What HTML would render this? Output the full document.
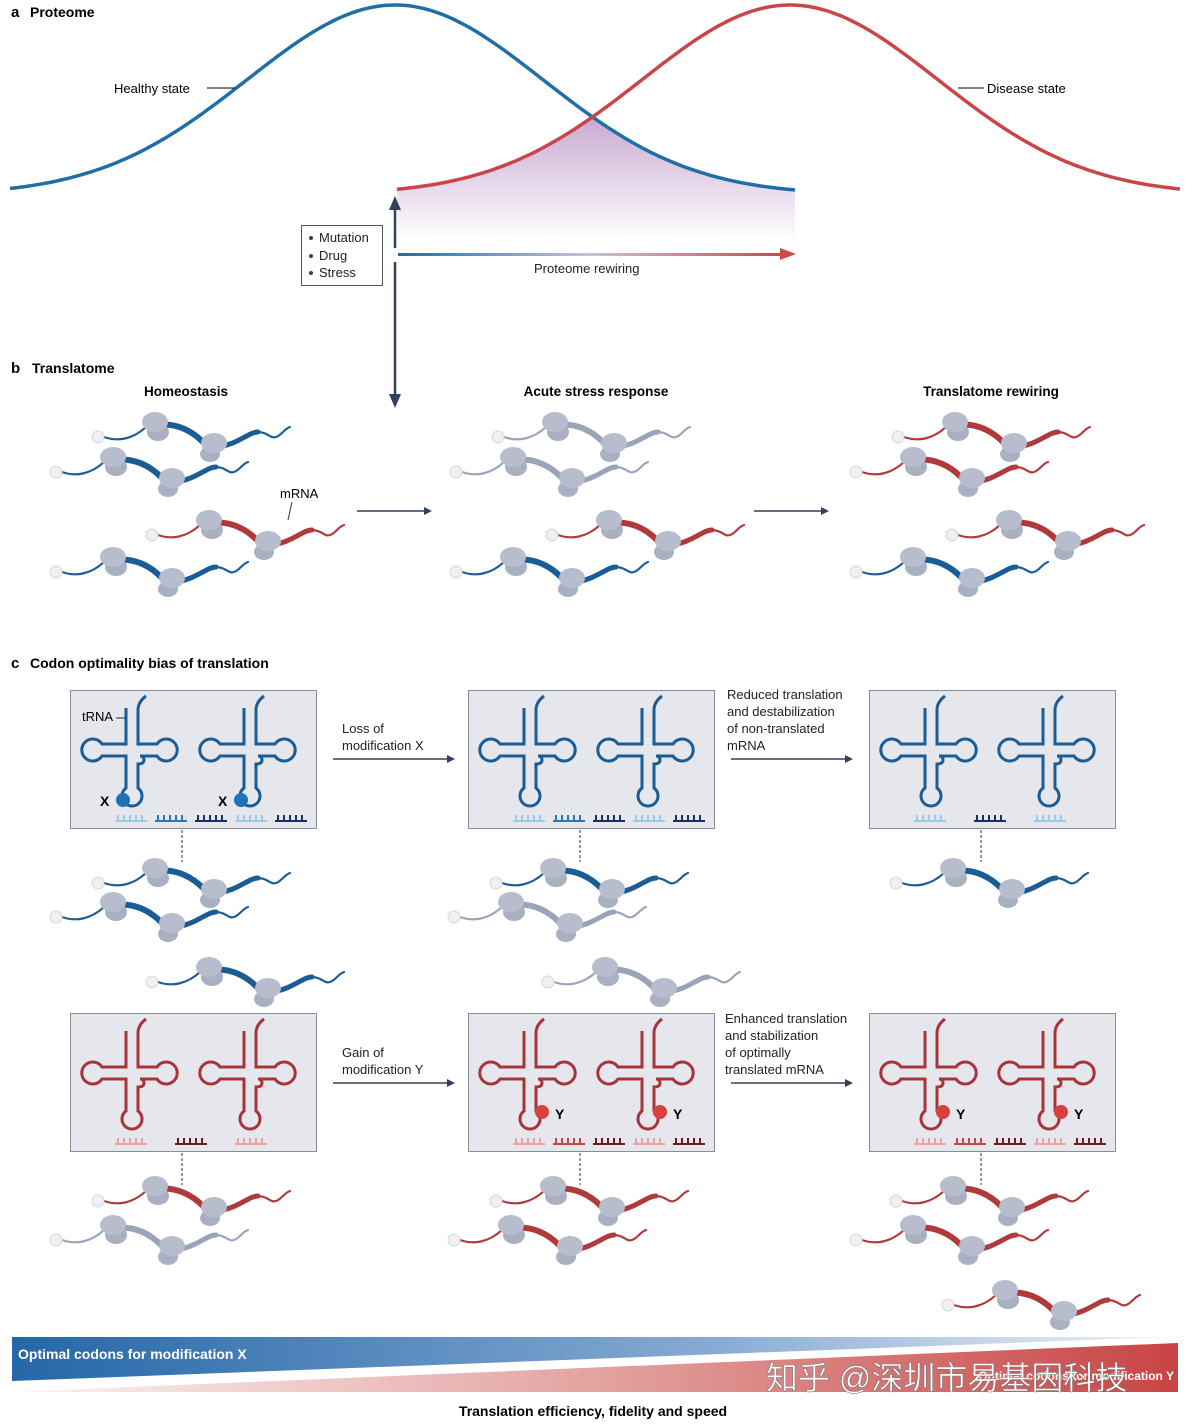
<!DOCTYPE html>
<html><head><meta charset="utf-8"><style>
body{margin:0;background:#fff;}
svg{display:block;font-family:"Liberation Sans",sans-serif;}
.b{font-weight:bold;}
</style></head><body>
<svg id="s" width="1189" height="1424" viewBox="0 0 1189 1424" xmlns="http://www.w3.org/2000/svg">
<defs>
<linearGradient id="pur" x1="0" y1="0" x2="0" y2="1"><stop offset="0" stop-color="#c9a9d2"/><stop offset="1" stop-color="#ffffff"/></linearGradient>
<linearGradient id="arr" x1="0" x2="1"><stop offset="0" stop-color="#1e6fa8"/><stop offset="0.5" stop-color="#c9c2d8"/><stop offset="1" stop-color="#d04848"/></linearGradient>
<linearGradient id="blu" x1="0" x2="1"><stop offset="0" stop-color="#2467a8"/><stop offset="0.6" stop-color="#86a9d2"/><stop offset="1" stop-color="#eef2f8"/></linearGradient>
<linearGradient id="red" x1="0" x2="1"><stop offset="0" stop-color="#fbf3f3"/><stop offset="0.5" stop-color="#e3a3a0"/><stop offset="1" stop-color="#c94444"/></linearGradient>
<symbol id="m" overflow="visible">
 <g fill="none" stroke="currentColor" stroke-linecap="round">
  <path d="M6,0 C20,5 35,2 48,-10" stroke-width="2.2"/>
  <path d="M57,-12 C80,-15 95,-5 105,5 C110,10 115,12 118,11" stroke-width="6"/>
  <path d="M118,10 C140,8 150,-5 160,-5" stroke-width="5"/>
  <path d="M160,-5 C170,-5 172,2 178,0 C184,-2 186,-8 192,-10" stroke-width="2.2"/>
 </g>
 <circle cx="0" cy="0" r="6" fill="#f0f0f3" stroke="#d5d7de"/>
 <ellipse cx="60" cy="-5" rx="11" ry="9" fill="#a9b0c2"/>
 <ellipse cx="57" cy="-15" rx="13" ry="10" fill="#b7bdcc"/>
 <ellipse cx="112" cy="17" rx="10" ry="8" fill="#a9b0c2"/>
 <ellipse cx="116" cy="6" rx="13" ry="10" fill="#b7bdcc"/>
</symbol>
<symbol id="t" overflow="visible">
 <path d="M-6,-42 V-6 H-30 A11,11 0 1 0 -30,6 H-6 V38 A10,10 0 1 0 6,38 V14 Q12,14 12,10 Q12,6 8,6 H25 A11,11 0 1 0 25,-6 H6 V-40 Q6,-48 14,-54" fill="none" stroke="currentColor" stroke-width="3"/>
</symbol>
<symbol id="c" overflow="visible">
 <g stroke="currentColor" stroke-width="2"><path d="M0,6 H32"/><path d="M3,6V0M9,6V0M15,6V0M21,6V0M27,6V0"/></g>
</symbol>
</defs>

<!-- Panel a -->
<text x="11" y="17" font-size="15" class="b">a</text><text x="30" y="17" font-size="14" class="b">Proteome</text>
<path id="shade" fill="url(#pur)"/>
<path id="bc" fill="none" stroke="#1f6fa6" stroke-width="3.5"/>
<path id="rc" fill="none" stroke="#c9454a" stroke-width="3.5"/>
<text x="114" y="93" font-size="13">Healthy state</text><line x1="207" y1="88" x2="235" y2="88" stroke="#000"/>
<text x="987" y="93" font-size="13">Disease state</text><line x1="958" y1="88" x2="984" y2="88" stroke="#000"/>
<line x1="395" y1="248" x2="395" y2="208" stroke="#34415d" stroke-width="2.5"/><path d="M389,210 L395,196 L401,210Z" fill="#34415d"/>
<line x1="395" y1="262" x2="395" y2="396" stroke="#34415d" stroke-width="2.5"/><path d="M389,394 L395,408 L401,394Z" fill="#34415d"/>
<rect x="398" y="253" width="384" height="3" fill="url(#arr)"/><path d="M780,248 L796,254 L780,260Z" fill="#d04848"/>
<text x="534" y="273" font-size="13" fill="#222">Proteome rewiring</text>
<rect x="301.5" y="225.5" width="81" height="60" fill="#fff" stroke="#555"/>
<g font-size="13" fill="#222"><circle cx="311" cy="238" r="2" fill="#34415d"/><text x="319" y="242">Mutation</text>
<circle cx="311" cy="256" r="2" fill="#34415d"/><text x="319" y="260">Drug</text>
<circle cx="311" cy="273" r="2" fill="#34415d"/><text x="319" y="277">Stress</text></g>

<!-- Panel b -->
<text x="11" y="373" font-size="15" class="b">b</text><text x="32" y="373" font-size="14" class="b">Translatome</text>
<g font-size="13.5" class="b" text-anchor="middle"><text x="186" y="396">Homeostasis</text><text x="596" y="396">Acute stress response</text><text x="991" y="396">Translatome rewiring</text></g>
<g>
<use href="#m" x="98" y="437" color="#1a5d96"/><use href="#m" x="56" y="472" color="#1a5d96"/><use href="#m" x="152" y="535" color="#b03a3a"/><use href="#m" x="56" y="572" color="#1a5d96"/>
<use href="#m" x="498" y="437" color="#9aa4b8"/><use href="#m" x="456" y="472" color="#9aa4b8"/><use href="#m" x="552" y="535" color="#b03a3a"/><use href="#m" x="456" y="572" color="#1a5d96"/>
<use href="#m" x="898" y="437" color="#b03a3a"/><use href="#m" x="856" y="472" color="#b03a3a"/><use href="#m" x="952" y="535" color="#b03a3a"/><use href="#m" x="856" y="572" color="#1a5d96"/>
</g>
<text x="280" y="498" font-size="13">mRNA</text><line x1="292" y1="502" x2="288" y2="520" stroke="#333"/>
<line x1="357" y1="511" x2="425" y2="511" stroke="#34415d" stroke-width="1.5"/><path d="M424,507 L432,511 L424,515Z" fill="#34415d"/>
<line x1="754" y1="511" x2="822" y2="511" stroke="#34415d" stroke-width="1.5"/><path d="M821,507 L829,511 L821,515Z" fill="#34415d"/>

<!-- Panel c -->
<text x="11" y="668" font-size="15" class="b">c</text><text x="30" y="668" font-size="14" class="b">Codon optimality bias of translation</text>
<g fill="#e6e7ed" stroke="#8a8d99">
<rect x="70.5" y="690.5" width="246" height="138"/><rect x="468.5" y="690.5" width="246" height="138"/><rect x="869.5" y="690.5" width="246" height="138"/>
<rect x="70.5" y="1013.5" width="246" height="138"/><rect x="468.5" y="1013.5" width="246" height="138"/><rect x="869.5" y="1013.5" width="246" height="138"/>
</g>
<g color="#1a5d96"><use href="#t" x="132" y="750"/><use href="#t" x="250" y="750"/><use href="#t" x="530" y="750"/><use href="#t" x="648" y="750"/><use href="#t" x="931" y="750"/><use href="#t" x="1049" y="750"/></g>
<g color="#a8343a"><use href="#t" x="132" y="1073"/><use href="#t" x="250" y="1073"/><use href="#t" x="530" y="1073"/><use href="#t" x="648" y="1073"/><use href="#t" x="931" y="1073"/><use href="#t" x="1049" y="1073"/></g>
<text x="82" y="721" font-size="13">tRNA</text><line x1="116" y1="718" x2="126" y2="718" stroke="#333"/>
<circle cx="123" cy="800" r="7" fill="#1f72b5"/><circle cx="241" cy="800" r="7" fill="#1f72b5"/>
<g font-size="14" class="b"><text x="100" y="806">X</text><text x="218" y="806">X</text>
<text x="555" y="1119">Y</text><text x="673" y="1119">Y</text><text x="956" y="1119">Y</text><text x="1074" y="1119">Y</text></g>
<g fill="#d9403f"><circle cx="542" cy="1112" r="7"/><circle cx="660" cy="1112" r="7"/><circle cx="943" cy="1112" r="7"/><circle cx="1061" cy="1112" r="7"/></g>
<g>
<use href="#c" x="115" y="815" color="#9ccbe8"/><use href="#c" x="155" y="815" color="#2b79b3"/><use href="#c" x="195" y="815" color="#1c2f63"/><use href="#c" x="235" y="815" color="#9ccbe8"/><use href="#c" x="275" y="815" color="#1c2f63"/>
<use href="#c" x="513" y="815" color="#9ccbe8"/><use href="#c" x="553" y="815" color="#2b79b3"/><use href="#c" x="593" y="815" color="#1c2f63"/><use href="#c" x="633" y="815" color="#9ccbe8"/><use href="#c" x="673" y="815" color="#1c2f63"/>
<use href="#c" x="914" y="815" color="#9ccbe8"/><use href="#c" x="974" y="815" color="#1c2f63"/><use href="#c" x="1034" y="815" color="#9ccbe8"/>
<use href="#c" x="115" y="1138" color="#eaa3a3"/><use href="#c" x="175" y="1138" color="#6b1c22"/><use href="#c" x="235" y="1138" color="#eaa3a3"/>
<use href="#c" x="513" y="1138" color="#eaa3a3"/><use href="#c" x="553" y="1138" color="#c04848"/><use href="#c" x="593" y="1138" color="#6b1c22"/><use href="#c" x="633" y="1138" color="#eaa3a3"/><use href="#c" x="673" y="1138" color="#6b1c22"/>
<use href="#c" x="914" y="1138" color="#eaa3a3"/><use href="#c" x="954" y="1138" color="#c04848"/><use href="#c" x="994" y="1138" color="#6b1c22"/><use href="#c" x="1034" y="1138" color="#eaa3a3"/><use href="#c" x="1074" y="1138" color="#6b1c22"/>
</g>
<g stroke="#333" stroke-dasharray="3,2"><line x1="182" y1="830" x2="182" y2="862"/><line x1="580" y1="830" x2="580" y2="862"/><line x1="981" y1="830" x2="981" y2="862"/>
<line x1="182" y1="1153" x2="182" y2="1185"/><line x1="580" y1="1153" x2="580" y2="1185"/><line x1="981" y1="1153" x2="981" y2="1185"/></g>
<g font-size="13" fill="#222">
<text x="342" y="733">Loss of</text><text x="342" y="750">modification X</text>
<text x="727" y="699">Reduced translation</text><text x="727" y="716">and destabilization</text><text x="727" y="733">of non-translated</text><text x="727" y="750">mRNA</text>
<text x="342" y="1057">Gain of</text><text x="342" y="1074">modification Y</text>
<text x="725" y="1023">Enhanced translation</text><text x="725" y="1040">and stabilization</text><text x="725" y="1057">of optimally</text><text x="725" y="1074">translated mRNA</text>
</g>
<g stroke="#34415d" stroke-width="1.5"><line x1="333" y1="759" x2="448" y2="759"/><line x1="731" y1="759" x2="846" y2="759"/><line x1="333" y1="1083" x2="448" y2="1083"/><line x1="731" y1="1083" x2="846" y2="1083"/></g>
<g fill="#34415d"><path d="M447,755 L455,759 L447,763Z"/><path d="M845,755 L853,759 L845,763Z"/><path d="M447,1079 L455,1083 L447,1087Z"/><path d="M845,1079 L853,1083 L845,1087Z"/></g>
<g>
<use href="#m" x="98" y="883" color="#1a5d96"/><use href="#m" x="56" y="917" color="#1a5d96"/><use href="#m" x="152" y="982" color="#1a5d96"/>
<use href="#m" x="496" y="883" color="#1a5d96"/><use href="#m" x="454" y="917" color="#9aa4b8"/><use href="#m" x="548" y="982" color="#9aa4b8"/>
<use href="#m" x="896" y="883" color="#1a5d96"/>
<use href="#m" x="98" y="1201" color="#b03a3a"/><use href="#m" x="56" y="1240" color="#9aa4b8"/>
<use href="#m" x="496" y="1201" color="#b03a3a"/><use href="#m" x="454" y="1240" color="#b03a3a"/>
<use href="#m" x="896" y="1201" color="#b03a3a"/><use href="#m" x="856" y="1240" color="#b03a3a"/><use href="#m" x="948" y="1305" color="#b03a3a"/>
</g>

<!-- bottom bars -->
<polygon points="12,1337 1168,1337 12,1381" fill="url(#blu)"/>
<polygon points="12,1392 1178,1343 1178,1392" fill="url(#red)"/>
<text x="18" y="1359" font-size="14" class="b" fill="#fff">Optimal codons for modification X</text>
<text x="1174" y="1380" font-size="12" class="b" fill="#fff" text-anchor="end">Optimal codons for modification Y</text>
<text x="766" y="1389" font-size="32" fill="#fff" stroke="#777" stroke-width="0.6" style="font-family:'Liberation Sans','Noto Sans CJK SC',sans-serif">知乎 @深圳市易基因科技</text>
<text x="593" y="1416" font-size="14" class="b" text-anchor="middle">Translation efficiency, fidelity and speed</text>
</svg>
<script>
var e0=Math.exp(-160000/(2*148*148));
function g(mu,x){var d=x-mu;if(Math.abs(d)>400)return 190;var f=(Math.exp(-d*d/(2*148*148))-e0)/(1-e0);return 190-185*f;}
var b="",r="";
for(var x=10;x<=795;x+=3){b+=(x==10?"M":"L")+x+","+g(395,x).toFixed(1);}
b+="L795,"+g(395,795).toFixed(1);
for(var x=397;x<=1181;x+=3){r+=(x==397?"M":"L")+x+","+g(790,x).toFixed(1);}
var sh="M397,"+g(790,397).toFixed(1);
for(var x=397;x<=795;x+=3){sh+="L"+x+","+Math.max(g(790,x),g(395,x)).toFixed(1);}
sh+="L795,190 L795,240 L397,240Z";
document.getElementById("bc").setAttribute("d",b);
document.getElementById("rc").setAttribute("d",r);
document.getElementById("shade").setAttribute("d",sh);
</script>
</body></html>
